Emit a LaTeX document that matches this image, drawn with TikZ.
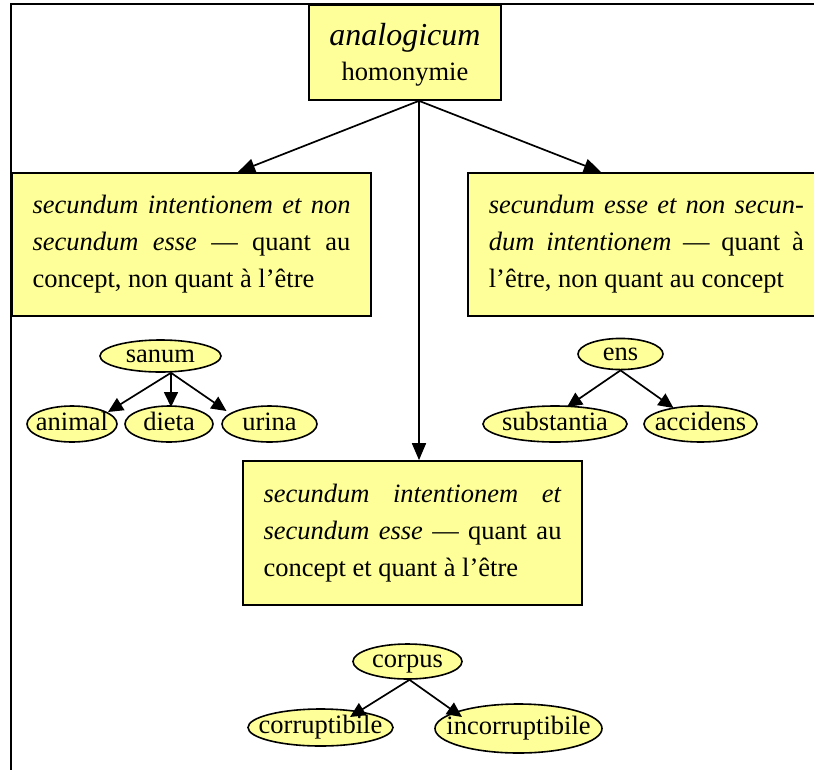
\documentclass[tikz,border=0pt]{standalone}
\usepackage{fontspec}
\setmainfont{Liberation Serif}
\usetikzlibrary{arrows.meta,shapes.geometric,calc}
\definecolor{paleyellow}{RGB}{255,255,153}
\tikzset{
  frameline/.style={line width=1.7pt},
  topbox/.style={draw, fill=paleyellow, line width=1.7pt, inner sep=0pt, align=center,
    font=\fontsize{26.5}{39}\selectfont},
  box/.style={draw, fill=paleyellow, line width=1.7pt, inner ysep=0pt, align=justify,
    font=\fontsize{26.5}{37}\selectfont},
  term/.style={ellipse, draw, fill=paleyellow, line width=1.6pt, inner sep=0pt,
    text height=17pt, text depth=5pt, font=\fontsize{26.5}{32}\selectfont},
  link/.style={line width=1.7pt, -{Triangle[length=17pt,width=14pt]}},
  sublink/.style={line width=1.7pt, -{Triangle[length=15pt,width=14pt]}},
}
\begin{document}
\begin{tikzpicture}[x=1pt, y=-1pt]
\useasboundingbox (0,0) rectangle (814,769);
\clip (0,0) rectangle (814,769);

% open frame (top and left sides)
\draw[frameline] (820,4) -- (11,4) -- (11,775);

% main boxes
\node[topbox, minimum width=192pt, minimum height=95pt] (top) at (405,52.5)
  {{\fontsize{32}{39}\selectfont\itshape\rule{0pt}{27pt}analogicum}\\[-4pt]homonymie};

\node[box, text width=318pt, inner xsep=20.5pt, minimum height=143.5pt] (intent) at (191.5,244.5)
  {\textit{secundum intentionem et non}\linebreak
   \textit{secundum esse} — quant au\linebreak
   concept, non quant à l’être};

\node[box, text width=315pt, inner xsep=21pt, minimum height=143.5pt, anchor=west] (esse) at (467,244.5)
  {\textit{secundum esse et non secun-}\linebreak
   \textit{dum intentionem} — quant à\linebreak
   l’être, non quant au concept};

\node[box, text width=298pt, inner xsep=20.5pt, minimum height=144pt] (both) at (412.5,533)
  {\textit{secundum intentionem et}\linebreak
   \textit{secundum esse} — quant au\linebreak
   concept et quant à l’être};

\coordinate (hub) at ([xshift=14pt]top.south);
\draw[link] (hub) -- ([xshift=46.5pt]intent.north);
\draw[link] (hub) -- ([xshift=-45.5pt]esse.north);
\draw[link] (hub) -- ([xshift=6.5pt]both.north);

% sanum
\node[term, minimum width=121pt, minimum height=32pt] (sanum) at (160.5,356) {\makebox[0pt]{sanum}};
\node[term, minimum width=90pt, minimum height=36pt] (animal) at (72,424) {\makebox[0pt]{animal}};
\node[term, minimum width=88pt, minimum height=36pt] (dieta) at (169,424) {\makebox[0pt]{dieta}};
\node[term, minimum width=95pt, minimum height=36pt] (urina) at (269.5,424) {\makebox[0pt]{urina}};
\coordinate (sanumfoot) at ([xshift=10.5pt]sanum.south);
\draw[sublink] (sanumfoot) -- ($(animal)+(36,-12)$);
\draw[sublink] (sanumfoot) -- ($(dieta)+(2,-17)$);
\draw[sublink] (sanumfoot) -- ($(urina)+(-43,-13)$);

% ens
\node[term, minimum width=85pt, minimum height=31pt] (ens) at (620.5,354) {\makebox[0pt]{ens}};
\node[term, minimum width=144pt, minimum height=36pt] (substantia) at (555,424) {\makebox[0pt]{substantia}};
\node[term, minimum width=113pt, minimum height=36pt] (accidens) at (700.5,424) {\makebox[0pt]{accidens}};
\draw[sublink] (ens.south) -- ($(substantia)+(12,-17)$);
\draw[sublink] (ens.south) -- ($(accidens)+(-27,-16)$);

% corpus
\node[term, minimum width=109pt, minimum height=35pt] (corpus) at (407.5,661.5) {\makebox[0pt]{corpus}};
\node[term, minimum width=145pt, minimum height=37pt] (corruptibile) at (320.5,727.5) {\makebox[0pt]{corruptibile}};
\node[term, minimum width=167pt, minimum height=49pt] (incorruptibile) at (518.5,728.5) {\makebox[0pt]{incorruptibile}};
\coordinate (corpusfoot) at ([xshift=2pt]corpus.south);
\draw[sublink] (corpusfoot) -- ($(corruptibile)+(29.5,-10.5)$);
\draw[sublink] (corpusfoot) -- ($(incorruptibile)+(-56.5,-11.5)$);
\end{tikzpicture}
\end{document}
